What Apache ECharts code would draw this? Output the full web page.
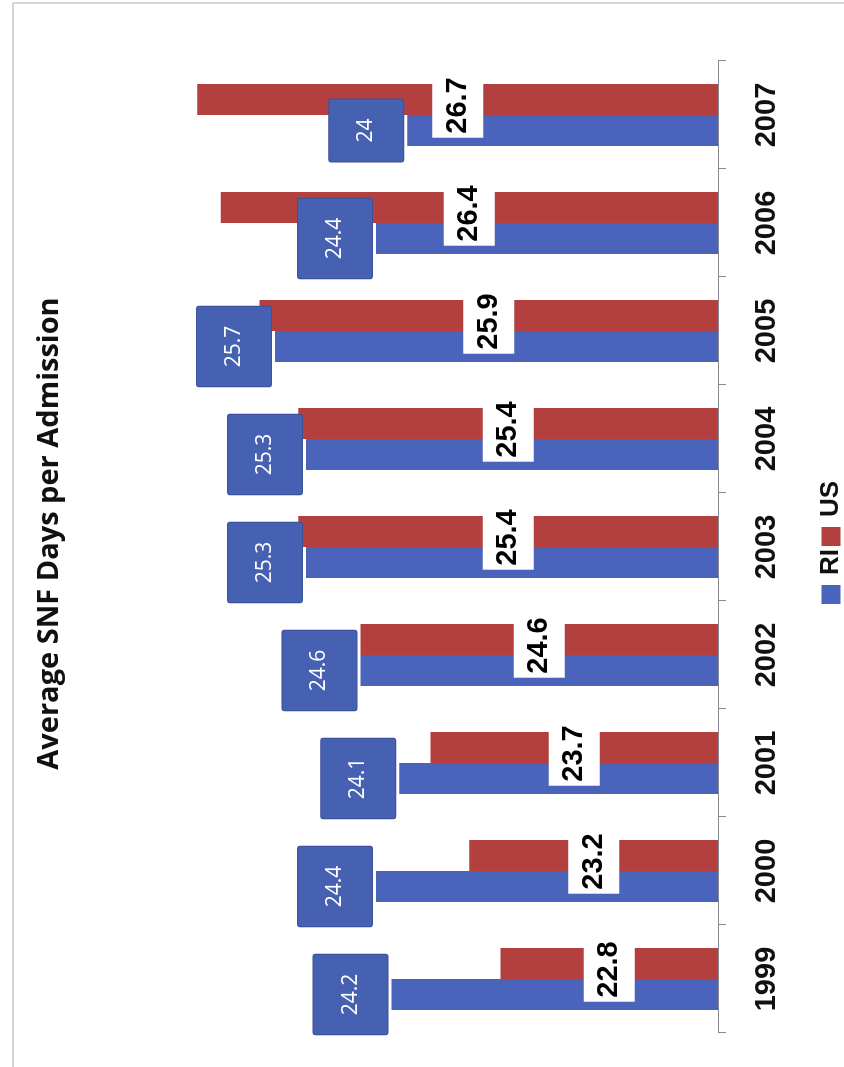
<!DOCTYPE html>
<html>
<head>
<meta charset="utf-8">
<script src="https://cdn.jsdelivr.net/npm/echarts@6/dist/echarts.min.js"></script>
<style>
html, body { margin: 0; padding: 0; width: 844px; height: 1067px; overflow: hidden; background: #fff; }
#chart { position: absolute; left: 0; top: 0; width: 1067px; height: 844px;
  transform-origin: 0 0; transform: translate(0px, 1067px) rotate(-90deg); }
</style>
</head>
<body>
<div id="chart"></div>
<script>
const years = ['1999', '2000', '2001', '2002', '2003', '2004', '2005', '2006', '2007'];
const riValues = [24.2, 24.4, 24.1, 24.6, 25.3, 25.3, 25.7, 24.4, 24];
const usValues = [22.8, 23.2, 23.7, 24.6, 25.4, 25.4, 25.9, 26.4, 26.7];
const titleText = 'Average SNF Days per Admission';

const chart = echarts.init(document.getElementById('chart'), null, { renderer: 'canvas' });
chart.setOption({
  animation: false,
  backgroundColor: '#ffffff',
  title: {
    text: titleText,
    left: 'center',
    top: 30,
    textStyle: { fontFamily: 'Open Sans', fontWeight: 'bold', fontSize: 29, color: '#111' }
  },
  legend: {
    data: ['RI', 'US'],
    left: 458,
    top: 813,
    icon: 'rect',
    itemWidth: 19,
    itemHeight: 19,
    itemGap: 3,
    textStyle: { fontFamily: 'Liberation Sans', fontWeight: 'bold', fontSize: 26, color: '#111', padding: [0, 0, 0, 5] }
  },
  grid: { left: 34, right: 61, top: 174, bottom: 126, containLabel: false },
  xAxis: {
    type: 'category',
    data: years,
    axisLine: { show: true, lineStyle: { color: '#8a8a95', width: 1 } },
    axisTick: { show: true, length: 8, lineStyle: { color: '#8a8a95' } },
    axisLabel: { margin: 34, fontFamily: 'Liberation Sans', fontWeight: 'bold', fontSize: 29, color: '#111' }
  },
  yAxis: {
    type: 'value',
    min: 20,
    max: 27,
    show: false,
    splitLine: { show: false }
  },
  graphic: [
    { type: 'line', shape: { x1: 0, y1: 13, x2: 1064, y2: 13 }, style: { stroke: '#c4c6d0', lineWidth: 1.5 } },
    { type: 'line', shape: { x1: 1064, y1: 13, x2: 1064, y2: 844 }, style: { stroke: '#c4c6d0', lineWidth: 1.5 } }
  ],
  series: [
    {
      name: 'RI',
      type: 'bar',
      data: riValues,
      barWidth: 31,
      barGap: '0%',
      itemStyle: { color: '#4a64bb' },
      label: {
        show: true,
        position: 'top',
        distance: 4,
        fontFamily: 'Open Sans',
        fontSize: 21,
        color: '#ffffff',
        backgroundColor: '#4660b2',
        borderColor: '#3b5096',
        borderWidth: 1,
        borderRadius: 2,
        padding: [25, 19],
        lineHeight: 24
      }
    },
    {
      name: 'US',
      type: 'bar',
      data: usValues,
      barWidth: 31,
      itemStyle: { color: '#b3403f' },
      label: {
        show: true,
        position: 'inside',
        offset: [-6, 0],
        fontFamily: 'Liberation Sans',
        fontWeight: 'bold',
        fontSize: 29,
        color: '#000000',
        backgroundColor: '#ffffff',
        padding: [10, 4],
        lineHeight: 31
      }
    }
  ]
});
</script>
</body>
</html>
